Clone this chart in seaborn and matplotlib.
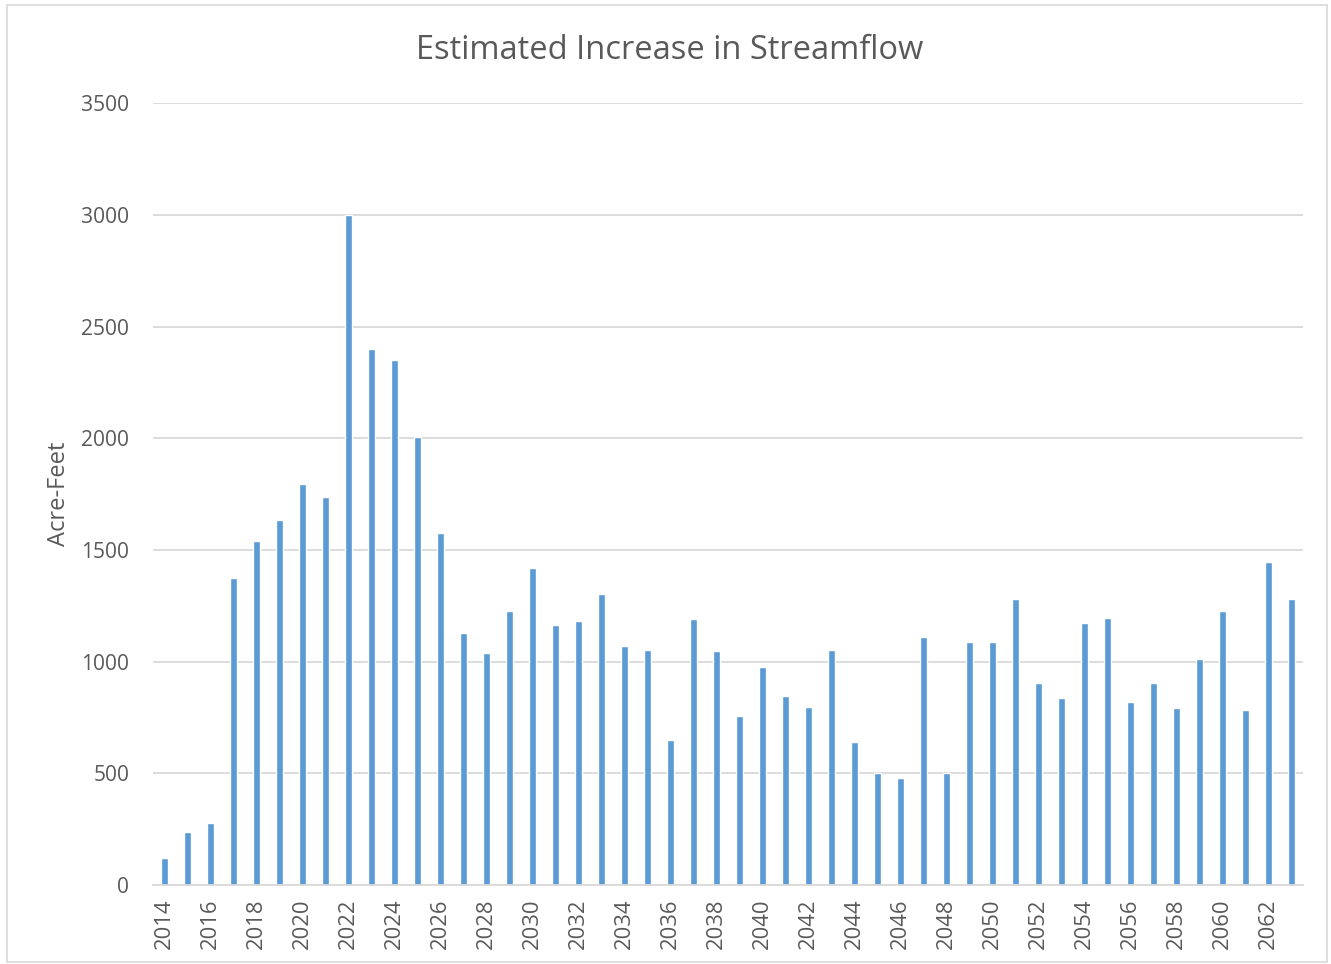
import pandas as pd
import matplotlib.pyplot as plt
import seaborn as sns
from matplotlib.patches import Rectangle

# Данные: год и прирост стока (акр-футы)
years = list(range(2014, 2064))
acre_feet = [120, 237, 277, 1374, 1540, 1634, 1795, 1737, 3000, 2400,
             2350, 2005, 1576, 1128, 1038, 1226, 1419, 1164, 1182, 1302,
             1070, 1052, 649, 1191, 1047, 756, 976, 846, 797, 1052,
             640, 501, 479, 1110, 501, 1088, 1088, 1280, 904, 837,
             1173, 1195, 819, 904, 792, 1012, 1226, 783, 1446, 1280]

df = pd.DataFrame({'Year': [str(y) for y in years], 'Acre-Feet': acre_feet})

sns.set_style('white')
plt.rcParams['font.family'] = ['Open Sans', 'DejaVu Sans']
text_color = '#595959'

fig = plt.figure(figsize=(13.31, 9.64), dpi=100)
ax = fig.add_axes([0.115, 0.082, 0.864, 0.811])

sns.barplot(data=df, x='Year', y='Acre-Feet', color='#5B9BD5', width=0.34,
            saturation=1, ax=ax)

ax.set_ylim(0, 3500)
ax.set_yticks(range(0, 3501, 500))
ax.yaxis.grid(True, color='#D9D9D9', linewidth=1.3)
ax.set_axisbelow(True)
ax.set_xlim(-0.5, len(years) - 0.5)

ax.set_xticks(range(0, len(years), 2))
ax.set_xticklabels(df['Year'][::2], rotation=90)
ax.tick_params(axis='both', length=0, colors=text_color)
ax.tick_params(axis='x', labelsize=15.8, pad=10)
ax.tick_params(axis='y', labelsize=15.1, pad=17)

for side in ['top', 'right', 'left']:
    ax.spines[side].set_visible(False)
ax.spines['bottom'].set_color('#D9D9D9')
ax.spines['bottom'].set_linewidth(1.3)

ax.set_xlabel('')
ax.set_ylabel('Acre-Feet', fontsize=17, color=text_color)
ax.yaxis.set_label_coords(-0.071, 0.5)
fig.text(0.503, 0.948, 'Estimated Increase in Streamflow', ha='center', va='center',
         fontsize=23.5, color=text_color)

# рамка вокруг диаграммы
fig.patches.append(Rectangle((0.005, 0.002), 0.992, 0.993, transform=fig.transFigure,
                             fill=False, edgecolor='#D9D9D9', linewidth=1.2))

plt.savefig('out.png', dpi=100)
